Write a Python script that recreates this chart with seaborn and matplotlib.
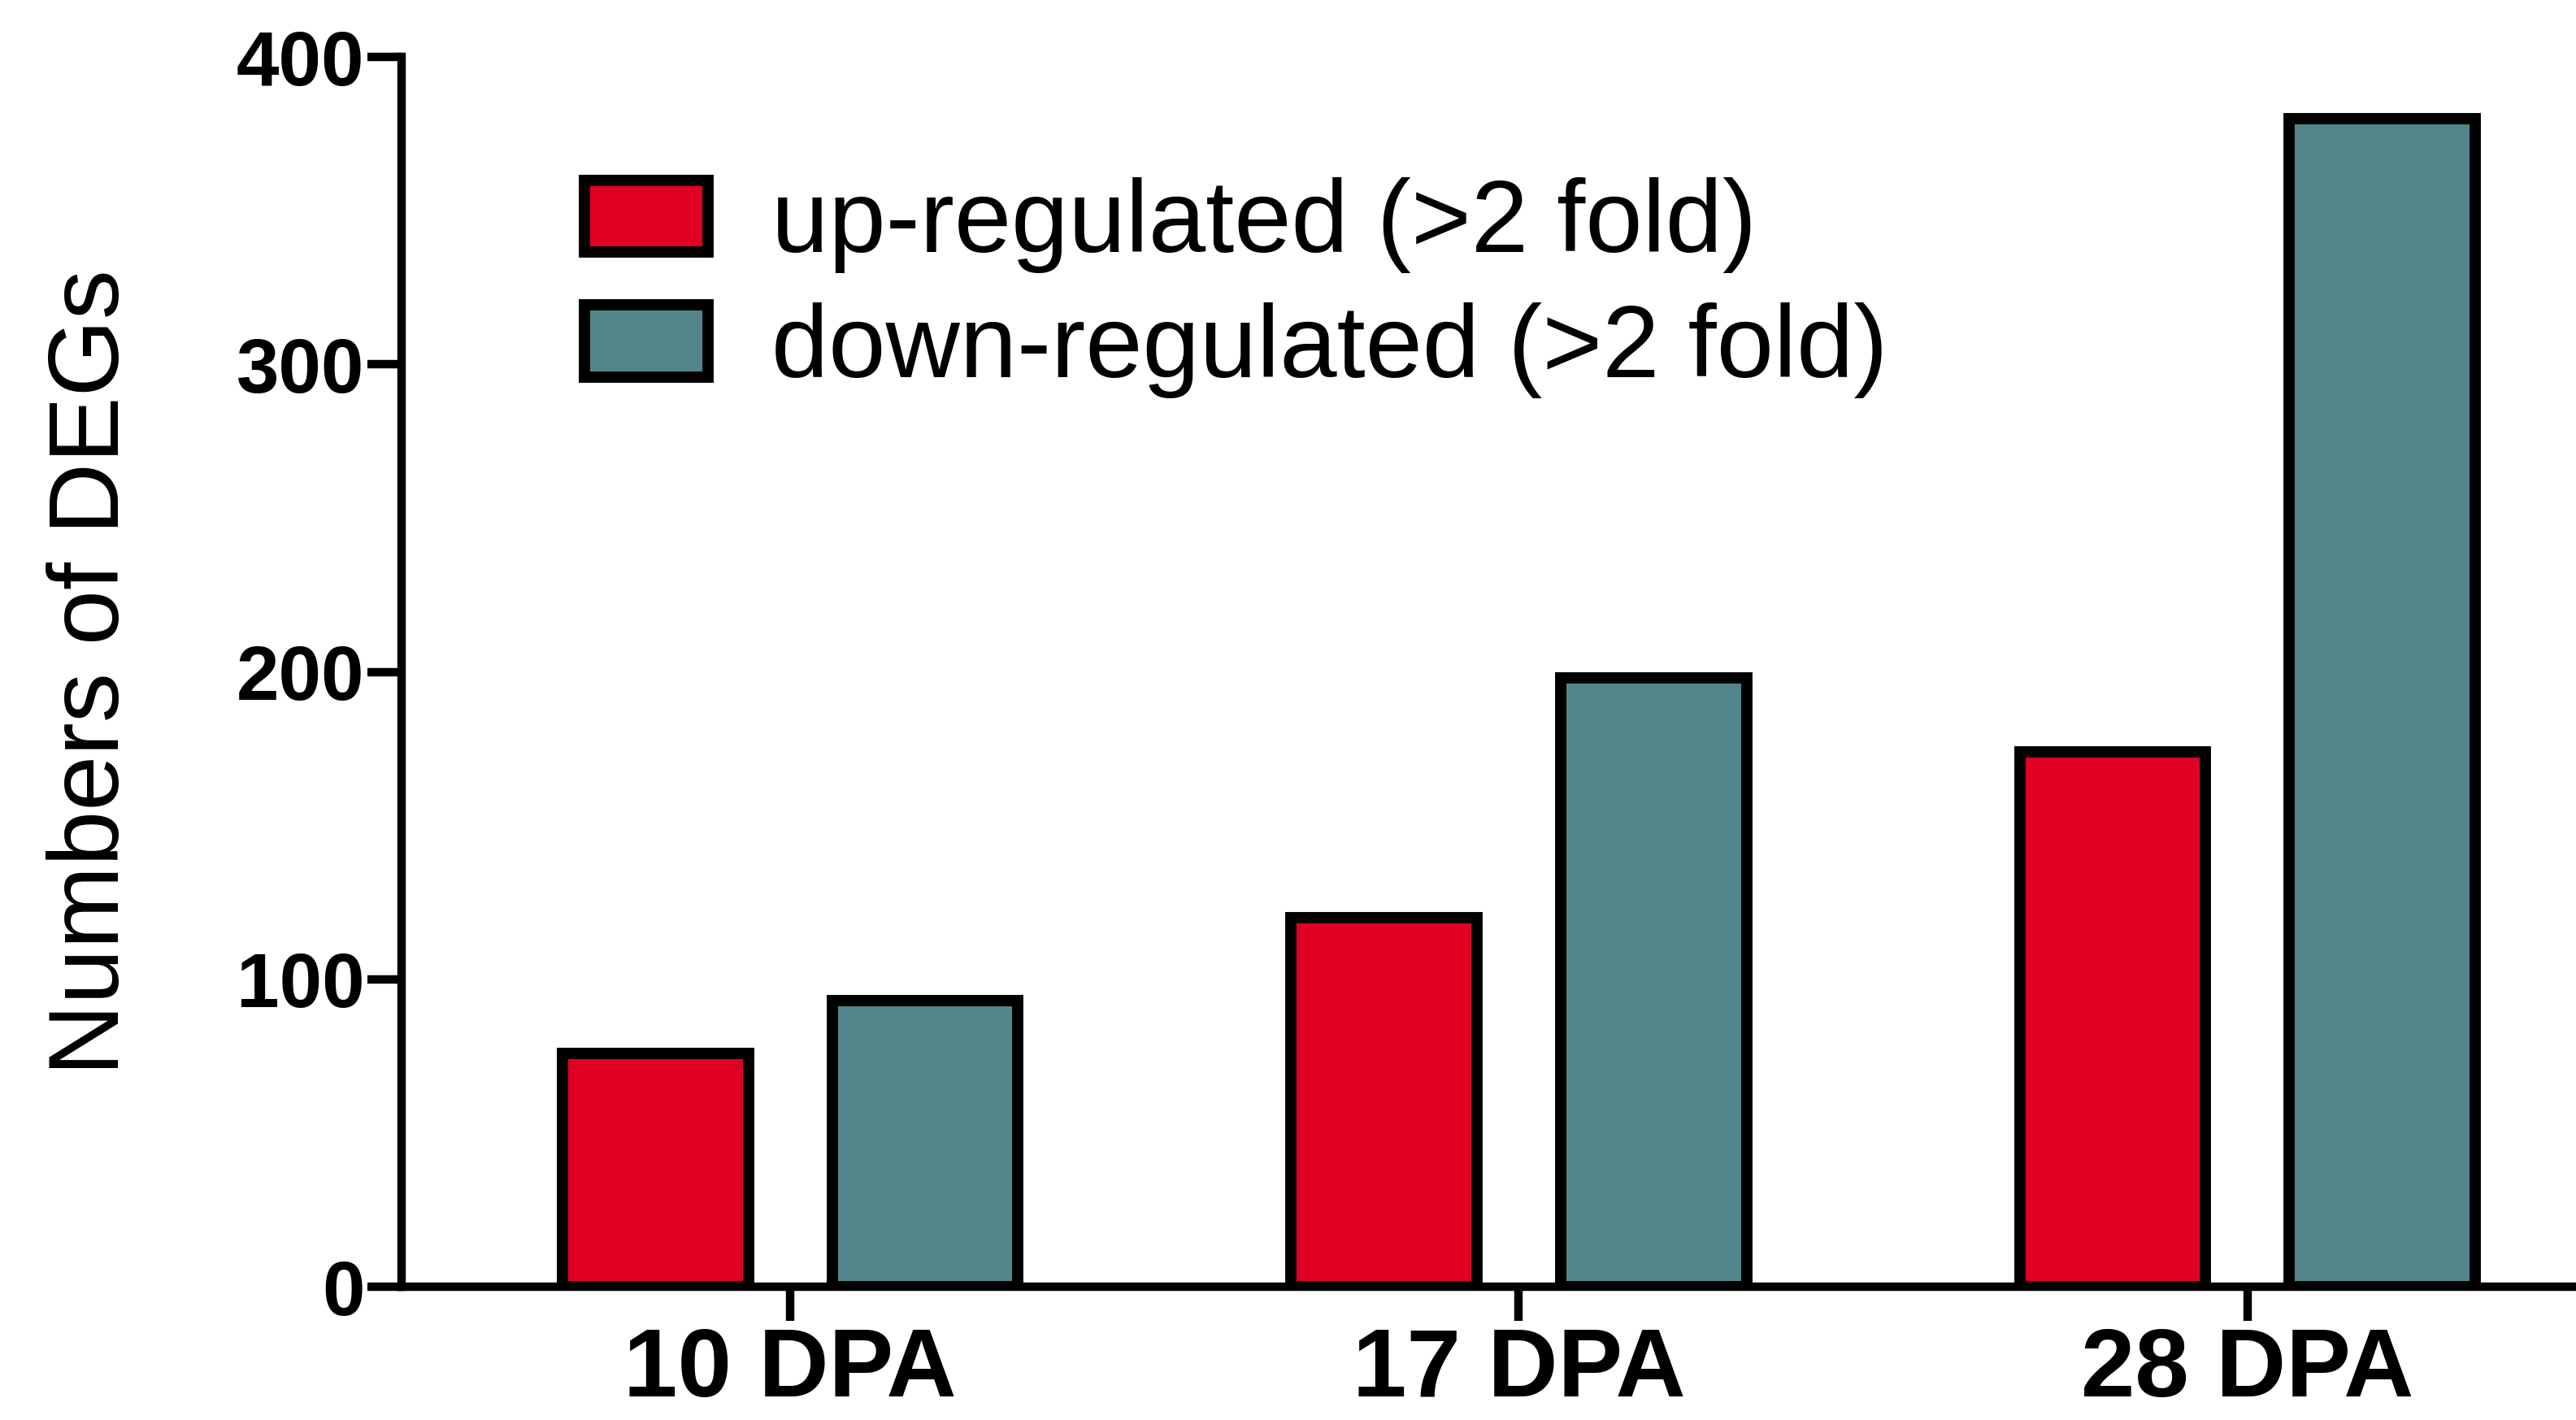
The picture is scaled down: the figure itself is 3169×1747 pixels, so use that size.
import pandas as pd
import matplotlib
matplotlib.use("Agg")
import matplotlib.pyplot as plt
import matplotlib.patches as mpatches
import seaborn as sns

stages = ["10 DPA", "17 DPA", "28 DPA"]
up_regulated = [76, 120, 174]
down_regulated = [93, 198, 380]
series_names = ["up-regulated (>2 fold)", "down-regulated (>2 fold)"]
colors = ["#E00024", "#52868A"]
y_ticks = [0, 100, 200, 300, 400]

df = pd.DataFrame({
    "stage": stages * 2,
    "count": up_regulated + down_regulated,
    "type": [series_names[0]] * 3 + [series_names[1]] * 3,
})

sns.set_style("ticks")
plt.rcParams["font.family"] = ["Liberation Sans", "DejaVu Sans"]
plt.rcParams["text.color"] = "black"
plt.rcParams["axes.labelcolor"] = "black"
plt.rcParams["axes.edgecolor"] = "black"
plt.rcParams["xtick.color"] = "black"
plt.rcParams["ytick.color"] = "black"

fig = plt.figure(figsize=(31.69, 17.47), dpi=100)
ax = fig.add_axes([0.156, 0.0938, 0.844, 0.866])

sns.barplot(data=df, x="stage", y="count", hue="type", palette=colors,
            saturation=1, edgecolor="black", linewidth=10, width=0.74, gap=0.31,
            errorbar=None, legend=False, ax=ax)

ax.set_xlim(-0.533, 2.451)
ax.set_ylim(0, 400)
ax.set_yticks(y_ticks)
ax.set_xlabel("")
ax.set_ylabel("Numbers of DEGs", fontsize=88)
ax.yaxis.set_label_coords(-0.121, 0.5)

sns.despine(ax=ax)
for side in ["left", "bottom"]:
    ax.spines[side].set_linewidth(7.5)
ax.tick_params(axis="both", length=30, width=7.5, color="black")
ax.tick_params(axis="y", pad=3)
ax.tick_params(axis="x", pad=5)
for lab in ax.get_yticklabels():
    lab.set_fontsize(68)
    lab.set_fontweight("bold")
for lab in ax.get_xticklabels():
    lab.set_fontsize(86)
    lab.set_fontweight("bold")

handles = [mpatches.Patch(facecolor=c, edgecolor="black", linewidth=10) for c in colors]
fig.legend(handles, series_names, loc="upper left", bbox_to_anchor=(0.227, 0.875),
           frameon=False, fontsize=91, handlelength=1.2, handleheight=0.7,
           handletextpad=0.62, labelspacing=0.28, borderpad=0, borderaxespad=0)

plt.savefig("out.png", dpi=100)
